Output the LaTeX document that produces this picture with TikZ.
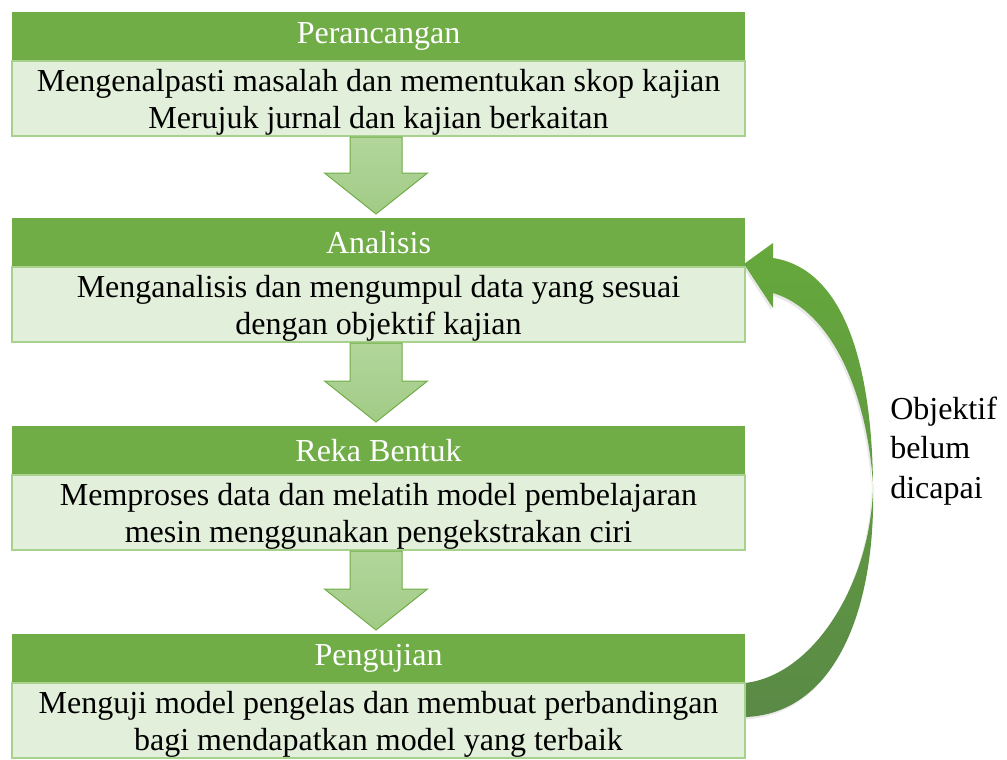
\documentclass[tikz,border=0pt]{standalone}
\usepackage{fontspec}
\setmainfont{Liberation Serif}
\usetikzlibrary{calc,shadows}
\definecolor{hdrgreen}{HTML}{70AD47}
\definecolor{bodyfill}{HTML}{E2EFDA}
\definecolor{bodyline}{HTML}{A9D18E}
\definecolor{arrline}{HTML}{70AD47}
\definecolor{arrtop}{HTML}{B2D69B}
\definecolor{arrbot}{HTML}{A2CB86}
\definecolor{curvetop}{HTML}{66A83C}
\definecolor{curvemid}{HTML}{67A93D}
\definecolor{curvebot}{HTML}{5A8A46}
\tikzset{
  txtfont/.style={font=\fontsize{24}{27.75}\selectfont},
  hdrbox/.style={txtfont, fill=hdrgreen, text=white, minimum width=549.75pt,
    minimum height=36.75pt, inner sep=0pt, outer sep=0pt},
  bodybox/.style={fill=bodyfill, draw=bodyline, line width=1.5pt, minimum width=549.75pt,
    minimum height=56.25pt, inner sep=0pt, outer sep=0pt},
  bodytext/.style={txtfont, align=center, inner sep=0pt, text=black},
  downarrow/.style={draw=arrline, line width=0.75pt, top color=arrtop, bottom color=arrbot},
  curvearrow/.style={top color=curvetop, middle color=curvemid, bottom color=curvebot,
    drop shadow={opacity=0.18, shadow xshift=-1.2pt, shadow yshift=-1.8pt}},
  lbltext/.style={font=\fontsize{24}{29.6}\selectfont, align=left, inner sep=0pt}
}
\newcommand\dnarrow[2]{%
  \path (#1.south -| ax) coordinate (dtop) (#2.north -| ax) coordinate (dtip);
  \draw[downarrow] ($(dtop)+(-26,1)$) -- ($(dtip)+(-26,-45)$) -- ($(dtip)+(-51.5,-45)$)
    -- ($(dtip)+(0,-4)$) -- ($(dtip)+(51.5,-45)$) -- ($(dtip)+(26,-45)$)
    -- ($(dtop)+(26,1)$) -- cycle;}
\begin{document}
\begin{tikzpicture}[x=0.75pt,y=-0.75pt]
\useasboundingbox (0,0) rectangle (1007,760);
\coordinate (ax) at (376,0);

% header and body boxes
\node[hdrbox, anchor=north west] (h1) at (12,12) {Perancangan};
\node[hdrbox, anchor=north west] (h2) at (12,218) {Analisis};
\node[hdrbox, anchor=north west] (h3) at (12,426) {Reka Bentuk};
\node[hdrbox, anchor=north west] (h4) at (12,634) {Pengujian};

% curved feedback arrow (drawn before the bodies so they cover its start)
\coordinate (ctip) at ($(h2.south east)+(-1,-3)$);
\coordinate (cbu) at ($(h4.south east)+(-6,0)$);
\coordinate (cbl) at ($(h4.south east)+(-6,34)$);
\path[curvearrow] (773,258) -- (773,243) -- (ctip) -- (773,308) -- (773,293)
  .. controls (835,312) and (868,400) .. (873,485)
  .. controls (872,580) and (815,675) .. (745,683) -- (cbu) -- (cbl) -- (745,717)
  .. controls (835,714) and (876,610) .. (873,485)
  .. controls (872,380) and (850,270) .. (773,258) -- cycle;

\node[bodybox, anchor=north] (b1) at (h1.south) {};
\node[bodybox, anchor=north] (b2) at (h2.south) {};
\node[bodybox, anchor=north] (b3) at (h3.south) {};
\node[bodybox, anchor=north] (b4) at (h4.south) {};

\node[bodytext] (t1) at ($(b1.center)+(0,4)$) {Mengenalpasti masalah dan mementukan skop kajian\\Merujuk jurnal dan kajian berkaitan};
\node[bodytext] (t2) at ($(b2.center)+(0,4)$) {Menganalisis dan mengumpul data yang sesuai\\dengan objektif kajian};
\node[bodytext] (t3) at ($(b3.center)+(0,4)$) {Memproses data dan melatih model pembelajaran\\mesin menggunakan pengekstrakan ciri};
\node[bodytext] (t4) at ($(b4.center)+(0,4)$) {Menguji model pengelas dan membuat perbandingan\\bagi mendapatkan model yang terbaik};

% down arrows
\dnarrow{b1}{h2}
\dnarrow{b2}{h3}
\dnarrow{b3}{h4}

% label of the feedback arrow
\node[lbltext, anchor=west] (lbl) at (890,451) {Objektif\\belum\\dicapai};
\end{tikzpicture}
\end{document}
